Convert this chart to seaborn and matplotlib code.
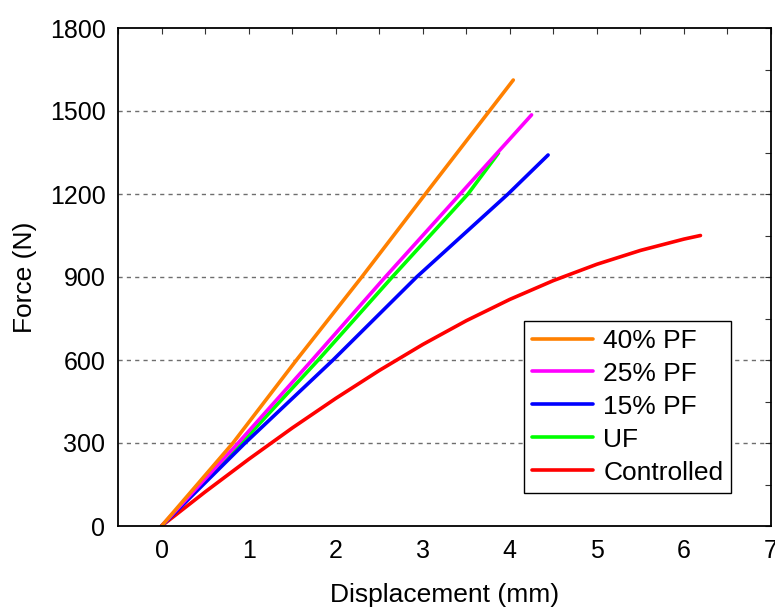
import matplotlib
matplotlib.use("Agg")
import matplotlib.pyplot as plt
import seaborn as sns
import pandas as pd
from matplotlib.ticker import MultipleLocator

sns.set_theme(style="white")
plt.rcParams['font.family'] = ['Liberation Sans', 'DejaVu Sans']
plt.rcParams['text.color'] = 'black'
plt.rcParams['axes.labelcolor'] = 'black'
plt.rcParams['xtick.color'] = 'black'
plt.rcParams['ytick.color'] = 'black'

# Data
x_40 = [0, 0.82, 1.55, 2.30, 3.03, 4.04]
y_40 = [0, 300, 600, 900, 1200, 1612]
x_25 = [0, 0.88, 1.73, 2.57, 3.43, 4.25]
y_25 = [0, 300, 600, 900, 1200, 1486]
x_15 = [0, 0.96, 1.97, 2.93, 3.98, 4.44]
y_15 = [0, 300, 600, 900, 1200, 1341]
x_uf = [0, 0.92, 1.80, 2.65, 3.52, 3.87]
y_uf = [0, 300, 600, 900, 1200, 1348]
x_ctrl = [0, 0.5, 1, 1.5, 2, 2.5, 3, 3.5, 4, 4.5, 5, 5.5, 6, 6.19]
y_ctrl = [0, 123, 241, 354, 461, 562, 656, 742, 819, 887, 946, 996, 1037, 1050]

labels = ["40% PF", "25% PF", "15% PF", "UF", "Controlled"]
colors = ["#FF8000", "#FF00FF", "#0000FF", "#00FF00", "#FF0000"]
series = {
    "40% PF": (x_40, y_40),
    "25% PF": (x_25, y_25),
    "15% PF": (x_15, y_15),
    "UF": (x_uf, y_uf),
    "Controlled": (x_ctrl, y_ctrl),
}
yticks = [0, 300, 600, 900, 1200, 1500, 1800]
xticks = [0, 1, 2, 3, 4, 5, 6, 7]

fig = plt.figure(figsize=(7.75, 6.09), dpi=100)
ax = fig.add_axes([118/775, 1-526/609, (771-118)/775, (526-28)/609])

for yv in yticks[1:-1]:
    ax.axhline(yv, color="#6e6e6e", lw=1.0, ls=(0, (3, 3)), zorder=0)

for lab in ["Controlled", "UF", "15% PF", "25% PF", "40% PF"]:
    xs, ys = series[lab]
    df = pd.DataFrame({"x": xs, "y": ys})
    col = colors[labels.index(lab)]
    sns.lineplot(data=df, x="x", y="y", ax=ax, color=col, lw=2.6,
                 sort=False, estimator=None, label=lab,
                 solid_joinstyle="round")

ax.set_xlim(-0.5, 7)
ax.set_ylim(0, 1800)
ax.set_xticks(xticks)
ax.set_yticks(yticks)
ax.xaxis.set_minor_locator(MultipleLocator(0.5))
ax.yaxis.set_minor_locator(MultipleLocator(150))
ax.tick_params(which="both", direction="in", top=True, right=True,
               length=4, width=0.8, color="#333333", labelsize=18,
               labelcolor="black")
ax.tick_params(axis="x", pad=9)
ax.tick_params(axis="y", pad=9)
for s in ax.spines.values():
    s.set_color("black")
    s.set_linewidth(1.3)

ax.set_xlabel("Displacement (mm)", fontsize=19, labelpad=15, color="black")
ax.set_ylabel("Force (N)", fontsize=19, labelpad=9, color="black")

h, l = ax.get_legend_handles_labels()
hl = dict(zip(l, h))
leg = ax.legend([hl[k] for k in labels], labels, loc="upper right",
                bbox_to_anchor=(0.939, 0.412), borderaxespad=0,
                fontsize=19, frameon=True, fancybox=False, framealpha=1,
                edgecolor="black", handlelength=2.3, labelspacing=0.34,
                handletextpad=0.4, borderpad=0.3)
leg.get_frame().set_linewidth(1.0)
for t in leg.get_texts():
    t.set_color("black")

fig.savefig("out.png", dpi=100)
